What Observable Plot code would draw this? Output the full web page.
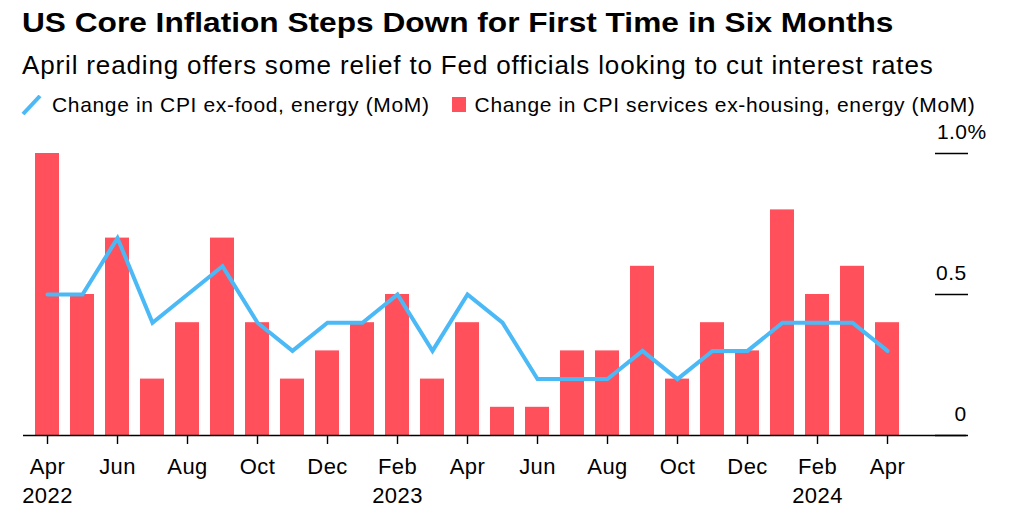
<!DOCTYPE html>
<html><head><meta charset="utf-8">
<script src="https://cdn.jsdelivr.net/npm/d3@7"></script>
<script src="https://cdn.jsdelivr.net/npm/@observablehq/plot@0.6"></script>
<style>
body{margin:0;background:#fff;font-family:"Liberation Sans",Arial,sans-serif;color:#000;width:1024px;height:522px;overflow:hidden;position:relative}
.h{position:absolute;left:22px;white-space:nowrap;line-height:1}
#title{top:9px;font-weight:bold;font-size:28px;transform:scaleX(1.13);transform-origin:0 0}
#subtitle{top:52px;font-size:26px;letter-spacing:0.85px}
#legend{top:94px;font-size:21px;letter-spacing:0.65px;display:flex;align-items:center;left:21px}
#legend .item{display:flex;align-items:center}
#chart{position:absolute;left:0;top:120px}
</style></head>
<body>
<div id="title" class="h">US Core Inflation Steps Down for First Time in Six Months</div>
<div id="subtitle" class="h">April reading offers some relief to Fed officials looking to cut interest rates</div>
<div id="legend" class="h">
  <span class="item"><svg width="31" height="20"><line x1="2" y1="19" x2="19" y2="1" stroke="#4bb9f6" stroke-width="4"/></svg>Change in CPI ex-food, energy (MoM)</span>
  <span class="item" style="margin-left:22px"><svg width="23" height="20"><rect x="0" y="2" width="14" height="15" fill="#ff505b"/></svg>Change in CPI services ex-housing, energy (MoM)</span>
</div>
<div id="chart"></div>
<script>
const months = ["Apr 2022","May 2022","Jun 2022","Jul 2022","Aug 2022","Sep 2022","Oct 2022","Nov 2022","Dec 2022",
  "Jan 2023","Feb 2023","Mar 2023","Apr 2023","May 2023","Jun 2023","Jul 2023","Aug 2023","Sep 2023","Oct 2023","Nov 2023","Dec 2023",
  "Jan 2024","Feb 2024","Mar 2024","Apr 2024"];
const coreCPI = [0.5,0.5,0.7,0.4,0.5,0.6,0.4,0.3,0.4, 0.4,0.5,0.3,0.5,0.4,0.2,0.2,0.2,0.3,0.2,0.3,0.3, 0.4,0.4,0.4,0.3];
const servicesExHousing = [1.0,0.5,0.7,0.2,0.4,0.7,0.4,0.2,0.3, 0.4,0.5,0.2,0.4,0.1,0.1,0.3,0.3,0.6,0.2,0.4,0.3, 0.8,0.5,0.6,0.4];
const xTicks = ["Apr 2022","Jun 2022","Aug 2022","Oct 2022","Dec 2022","Feb 2023","Apr 2023","Jun 2023","Aug 2023","Oct 2023","Dec 2023","Feb 2024","Apr 2024"];
const xTickLabels = ["Apr\n2022","Jun","Aug","Oct","Dec","Feb\n2023","Apr","Jun","Aug","Oct","Dec","Feb\n2024","Apr"];
const yTicks = [0, 0.5, 1];
const yTickLabels = ["0", "0.5", "1.0"];

const data = months.map((m, i) => ({month: m, core: coreCPI[i], sc: servicesExHousing[i]}));
const xLabel = new Map(xTicks.map((t, i) => [t, xTickLabels[i]]));
const yLabel = new Map(yTicks.map((t, i) => [t, yTickLabels[i]]));

const chart = Plot.plot({
  width: 1024, height: 402,
  marginLeft: 24, marginRight: 90, marginTop: 33, marginBottom: 87,
  style: {fontFamily: "Liberation Sans, Arial, sans-serif", fontSize: "22px", color: "#000", background: "transparent", letterSpacing: "0.4px"},
  x: {type: "band", domain: months, range: [24, 910], padding: 0.31, label: null},
  y: {domain: [0, 1], label: null},
  marks: [
    Plot.barY(data, {x: "month", y: "sc", fill: "#ff505b"}),
    Plot.ruleY([0], {stroke: "#000", strokeWidth: 1.4, insetLeft: -1, insetRight: -32}),
    Plot.line(data, {x: "month", y: "core", stroke: "#4bb9f6", strokeWidth: 4, strokeLinejoin: "miter", strokeMiterlimit: 10}),
    Plot.axisX(xTicks, {anchor: "bottom", label: null, tickSize: 9, tickPadding: 9, strokeWidth: 1.4, stroke: "#000",
      tickFormat: d => xLabel.get(d), fontSize: 22, lineHeight: 1.32, fill: "#000"}),
    Plot.axisY(yTicks, {anchor: "right", label: null, tickSize: 33, strokeWidth: 1.4, stroke: "#000", tickFormat: () => ""}),
    Plot.axisY([0, 0.5], {anchor: "right", label: null, tickSize: 0, tickPadding: 32, textAnchor: "end", dy: -21, fontSize: 21, fill: "#000",
      tickFormat: d => yLabel.get(d)}),
    Plot.axisY([1], {anchor: "right", label: null, tickSize: 0, tickPadding: 32, textAnchor: "end", dy: -21, dx: 20, fontSize: 21, fill: "#000",
      tickFormat: d => yLabel.get(d) + "%"})
  ]
});
document.getElementById("chart").append(chart);
</script>
</body></html>
